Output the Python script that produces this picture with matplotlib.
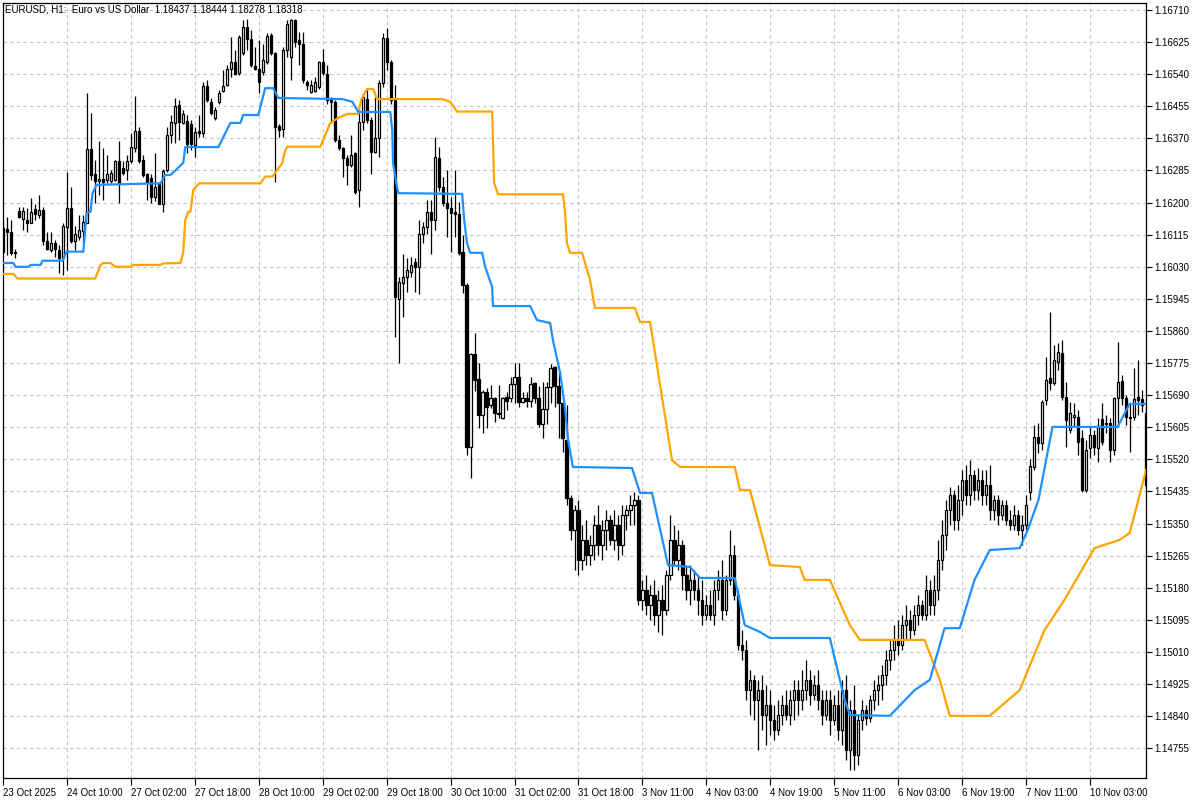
import matplotlib
matplotlib.use("Agg")
import matplotlib.pyplot as plt
import numpy as np

# EURUSD H1 candles, one entry per bar (prices)
opens = [1.16132, 1.16129, 1.16121, 1.16069, 1.16178, 1.16156, 1.16154, 1.16147, 1.16182, 1.16168,
         1.16181, 1.16099, 1.16075, 1.16092, 1.16075, 1.16053, 1.16135, 1.16186, 1.16098, 1.16110,
         1.16126, 1.16147, 1.16341, 1.16275, 1.16256, 1.16262, 1.16260, 1.16257, 1.16260, 1.16310,
         1.16291, 1.16285, 1.16309, 1.16344, 1.16390, 1.16313, 1.16275, 1.16265, 1.16215, 1.16250,
         1.16197, 1.16285, 1.16379, 1.16411, 1.16458, 1.16411, 1.16416, 1.16408, 1.16352, 1.16389,
         1.16383, 1.16508, 1.16467, 1.16423, 1.16467, 1.16496, 1.16511, 1.16555, 1.16573, 1.16542,
         1.16595, 1.16665, 1.16634, 1.16563, 1.16555, 1.16546, 1.16573, 1.16643, 1.16595, 1.16402,
         1.16396, 1.16604, 1.16586, 1.16683, 1.16630, 1.16621, 1.16520, 1.16493, 1.16496, 1.16505,
         1.16573, 1.16540, 1.16471, 1.16467, 1.16367, 1.16344, 1.16317, 1.16299, 1.16330, 1.16233,
         1.16414, 1.16473, 1.16418, 1.16335, 1.16370, 1.16516, 1.16635, 1.16573, 1.16471, 1.15946,
         1.15988, 1.16004, 1.16017, 1.16043, 1.16030, 1.16118, 1.16136, 1.16176, 1.16154, 1.16317,
         1.16242, 1.16198, 1.16185, 1.16176, 1.16170, 1.16068, 1.15982, 1.15554, 1.15798, 1.15732,
         1.15638, 1.15698, 1.15664, 1.15682, 1.15639, 1.15629, 1.15685, 1.15682, 1.15719, 1.15737,
         1.15673, 1.15683, 1.15675, 1.15721, 1.15682, 1.15615, 1.15653, 1.15711, 1.15764, 1.15713,
         1.15669, 1.15571, 1.15418, 1.15333, 1.15386, 1.15254, 1.15307, 1.15267, 1.15293, 1.15346,
         1.15293, 1.15333, 1.15360, 1.15307, 1.15346, 1.15293, 1.15373, 1.15386, 1.15399, 1.15413,
         1.15148, 1.15174, 1.15134, 1.15161, 1.15108, 1.15148, 1.15121, 1.15214, 1.15307, 1.15254,
         1.15293, 1.15214, 1.15174, 1.15201, 1.15174, 1.15148, 1.15108, 1.15134, 1.15108, 1.15174,
         1.15201, 1.15121, 1.15201, 1.15267, 1.15161, 1.15029, 1.15015, 1.14909, 1.14936, 1.14883,
         1.14909, 1.14843, 1.14870, 1.14830, 1.14803, 1.14843, 1.14870, 1.14843, 1.14883, 1.14909,
         1.14883, 1.14909, 1.14936, 1.14896, 1.14923, 1.14883, 1.14843, 1.14883, 1.14830, 1.14870,
         1.14803, 1.14909, 1.14750, 1.14856, 1.14737, 1.14830, 1.14856, 1.14835, 1.14883, 1.14909,
         1.14923, 1.14949, 1.14989, 1.15015, 1.15042, 1.15029, 1.15082, 1.15095, 1.15068, 1.15108,
         1.15134, 1.15108, 1.15174, 1.15134, 1.15174, 1.15254, 1.15320, 1.15386, 1.15426, 1.15360,
         1.15413, 1.15465, 1.15426, 1.15479, 1.15439, 1.15465, 1.15426, 1.15452, 1.15386, 1.15413,
         1.15373, 1.15399, 1.15360, 1.15346, 1.15373, 1.15333, 1.15346, 1.15434, 1.15500, 1.15580,
         1.15563, 1.15677, 1.15736, 1.15722, 1.15778, 1.15802, 1.15685, 1.15598, 1.15632, 1.15632,
         1.15577, 1.15439, 1.15550, 1.15585, 1.15550, 1.15627, 1.15616, 1.15616, 1.15545, 1.15683,
         1.15728, 1.15683, 1.15632, 1.15632, 1.15685, 1.15680, 1.15643]
highs = [1.16145, 1.16163, 1.16154, 1.16076, 1.16189, 1.16189, 1.16185, 1.16212, 1.16197, 1.16220,
         1.16189, 1.16123, 1.16121, 1.16101, 1.16088, 1.16145, 1.16282, 1.16242, 1.16137, 1.16167,
         1.16167, 1.16490, 1.16437, 1.16313, 1.16362, 1.16344, 1.16326, 1.16287, 1.16313, 1.16362,
         1.16309, 1.16326, 1.16384, 1.16481, 1.16401, 1.16326, 1.16278, 1.16275, 1.16330, 1.16255,
         1.16290, 1.16400, 1.16431, 1.16476, 1.16471, 1.16445, 1.16431, 1.16418, 1.16400, 1.16431,
         1.16520, 1.16524, 1.16476, 1.16453, 1.16498, 1.16551, 1.16564, 1.16639, 1.16604, 1.16643,
         1.16683, 1.16685, 1.16657, 1.16612, 1.16630, 1.16621, 1.16648, 1.16648, 1.16599, 1.16409,
         1.16612, 1.16683, 1.16687, 1.16687, 1.16652, 1.16652, 1.16524, 1.16524, 1.16533, 1.16576,
         1.16608, 1.16564, 1.16480, 1.16471, 1.16379, 1.16348, 1.16326, 1.16379, 1.16335, 1.16436,
         1.16489, 1.16498, 1.16427, 1.16480, 1.16524, 1.16648, 1.16661, 1.16577, 1.16511, 1.16004,
         1.16065, 1.16052, 1.16057, 1.16052, 1.16154, 1.16149, 1.16207, 1.16207, 1.16374, 1.16348,
         1.16268, 1.16286, 1.16215, 1.16286, 1.16202, 1.16114, 1.15986, 1.15801, 1.15854, 1.15774,
         1.15704, 1.15708, 1.15717, 1.15686, 1.15717, 1.15686, 1.15699, 1.15737, 1.15776, 1.15776,
         1.15699, 1.15699, 1.15737, 1.15726, 1.15713, 1.15726, 1.15726, 1.15773, 1.15767, 1.15748,
         1.15673, 1.15664, 1.15426, 1.15399, 1.15413, 1.15346, 1.15360, 1.15320, 1.15373, 1.15399,
         1.15360, 1.15386, 1.15373, 1.15386, 1.15373, 1.15399, 1.15399, 1.15426, 1.15434, 1.15426,
         1.15201, 1.15214, 1.15187, 1.15201, 1.15174, 1.15187, 1.15227, 1.15373, 1.15346, 1.15333,
         1.15307, 1.15240, 1.15240, 1.15227, 1.15214, 1.15201, 1.15161, 1.15174, 1.15201, 1.15227,
         1.15254, 1.15214, 1.15333, 1.15293, 1.15174, 1.15068, 1.15042, 1.14962, 1.14949, 1.14936,
         1.14949, 1.14923, 1.14909, 1.14870, 1.14883, 1.14896, 1.14909, 1.14909, 1.14936, 1.14936,
         1.14962, 1.14989, 1.14962, 1.14949, 1.14962, 1.14909, 1.14909, 1.14909, 1.14896, 1.14909,
         1.14936, 1.14949, 1.14883, 1.14923, 1.14843, 1.14883, 1.14870, 1.14896, 1.14936, 1.14949,
         1.14976, 1.15015, 1.15042, 1.15082, 1.15095, 1.15108, 1.15134, 1.15121, 1.15134, 1.15161,
         1.15148, 1.15214, 1.15201, 1.15214, 1.15307, 1.15360, 1.15413, 1.15447, 1.15439, 1.15452,
         1.15492, 1.15505, 1.15518, 1.15492, 1.15497, 1.15492, 1.15492, 1.15505, 1.15426, 1.15426,
         1.15413, 1.15413, 1.15386, 1.15399, 1.15386, 1.15373, 1.15426, 1.15521, 1.15611, 1.15616,
         1.15677, 1.15791, 1.15910, 1.15823, 1.15828, 1.15836, 1.15725, 1.15672, 1.15669, 1.15651,
         1.15598, 1.15571, 1.15606, 1.15598, 1.15630, 1.15669, 1.15638, 1.15630, 1.15685, 1.15831,
         1.15744, 1.15691, 1.15669, 1.15762, 1.15783, 1.15704, 1.15677]
lows = [1.16066, 1.16061, 1.16061, 1.16053, 1.16159, 1.16128, 1.16123, 1.16145, 1.16154, 1.16159,
        1.16088, 1.16075, 1.16070, 1.16057, 1.16013, 1.16009, 1.16022, 1.16092, 1.16075, 1.16101,
        1.16092, 1.16145, 1.16260, 1.16198, 1.16220, 1.16207, 1.16251, 1.16251, 1.16256, 1.16198,
        1.16273, 1.16260, 1.16304, 1.16335, 1.16304, 1.16269, 1.16207, 1.16200, 1.16205, 1.16196,
        1.16175, 1.16280, 1.16357, 1.16357, 1.16365, 1.16409, 1.16330, 1.16339, 1.16321, 1.16374,
        1.16374, 1.16467, 1.16431, 1.16418, 1.16462, 1.16493, 1.16508, 1.16533, 1.16537, 1.16537,
        1.16590, 1.16604, 1.16559, 1.16551, 1.16489, 1.16537, 1.16568, 1.16590, 1.16255, 1.16374,
        1.16374, 1.16586, 1.16524, 1.16612, 1.16564, 1.16516, 1.16498, 1.16489, 1.16493, 1.16502,
        1.16537, 1.16462, 1.16410, 1.16361, 1.16339, 1.16268, 1.16246, 1.16295, 1.16224, 1.16189,
        1.16392, 1.16410, 1.16277, 1.16330, 1.16321, 1.16507, 1.16551, 1.16462, 1.15845, 1.15774,
        1.15898, 1.15964, 1.16004, 1.15964, 1.15959, 1.16092, 1.16118, 1.16065, 1.16127, 1.16230,
        1.16190, 1.16110, 1.16070, 1.16110, 1.16061, 1.15960, 1.15532, 1.15470, 1.15700, 1.15602,
        1.15589, 1.15602, 1.15655, 1.15620, 1.15629, 1.15626, 1.15651, 1.15673, 1.15668, 1.15660,
        1.15668, 1.15660, 1.15660, 1.15668, 1.15607, 1.15576, 1.15615, 1.15668, 1.15660, 1.15576,
        1.15540, 1.15399, 1.15307, 1.15227, 1.15214, 1.15227, 1.15240, 1.15240, 1.15254, 1.15267,
        1.15254, 1.15280, 1.15293, 1.15280, 1.15254, 1.15267, 1.15333, 1.15346, 1.15346, 1.15134,
        1.15121, 1.15108, 1.15095, 1.15082, 1.15063, 1.15055, 1.15108, 1.15201, 1.15240, 1.15227,
        1.15174, 1.15148, 1.15134, 1.15148, 1.15108, 1.15082, 1.15095, 1.15095, 1.15082, 1.15148,
        1.15095, 1.15108, 1.15187, 1.15148, 1.15015, 1.14989, 1.14883, 1.14843, 1.14830, 1.14750,
        1.14803, 1.14764, 1.14790, 1.14777, 1.14790, 1.14817, 1.14830, 1.14817, 1.14830, 1.14843,
        1.14856, 1.14883, 1.14870, 1.14883, 1.14856, 1.14817, 1.14830, 1.14790, 1.14817, 1.14777,
        1.14764, 1.14724, 1.14698, 1.14698, 1.14711, 1.14803, 1.14817, 1.14825, 1.14856, 1.14870,
        1.14883, 1.14923, 1.14962, 1.14989, 1.15002, 1.15015, 1.15042, 1.15042, 1.15055, 1.15082,
        1.15095, 1.15095, 1.15108, 1.15108, 1.15148, 1.15227, 1.15280, 1.15346, 1.15333, 1.15333,
        1.15373, 1.15399, 1.15399, 1.15413, 1.15413, 1.15399, 1.15399, 1.15360, 1.15360, 1.15346,
        1.15360, 1.15346, 1.15333, 1.15333, 1.15320, 1.15293, 1.15333, 1.15413, 1.15492, 1.15537,
        1.15545, 1.15664, 1.15704, 1.15717, 1.15757, 1.15677, 1.15553, 1.15590, 1.15606, 1.15532,
        1.15434, 1.15434, 1.15524, 1.15532, 1.15513, 1.15558, 1.15590, 1.15513, 1.15532, 1.15606,
        1.15664, 1.15611, 1.15540, 1.15624, 1.15638, 1.15646, 1.15444]
closes = [1.16070, 1.16121, 1.16066, 1.16066, 1.16161, 1.16178, 1.16147, 1.16174, 1.16169, 1.16181,
          1.16099, 1.16077, 1.16094, 1.16076, 1.16053, 1.16139, 1.16185, 1.16099, 1.16117, 1.16128,
          1.16148, 1.16341, 1.16273, 1.16258, 1.16262, 1.16254, 1.16276, 1.16278, 1.16311, 1.16253,
          1.16278, 1.16310, 1.16347, 1.16390, 1.16309, 1.16273, 1.16251, 1.16215, 1.16240, 1.16197,
          1.16284, 1.16379, 1.16414, 1.16455, 1.16414, 1.16434, 1.16355, 1.16356, 1.16387, 1.16383,
          1.16508, 1.16471, 1.16436, 1.16446, 1.16489, 1.16508, 1.16555, 1.16573, 1.16540, 1.16639,
          1.16665, 1.16634, 1.16564, 1.16555, 1.16520, 1.16577, 1.16641, 1.16595, 1.16401, 1.16393,
          1.16604, 1.16674, 1.16683, 1.16626, 1.16621, 1.16524, 1.16511, 1.16511, 1.16520, 1.16573,
          1.16542, 1.16471, 1.16467, 1.16366, 1.16344, 1.16317, 1.16299, 1.16326, 1.16229, 1.16414,
          1.16480, 1.16418, 1.16335, 1.16370, 1.16516, 1.16635, 1.16573, 1.16471, 1.15951, 1.15990,
          1.16004, 1.16021, 1.16034, 1.16030, 1.16118, 1.16136, 1.16176, 1.16154, 1.16321, 1.16242,
          1.16198, 1.16185, 1.16173, 1.16170, 1.16067, 1.15982, 1.15554, 1.15798, 1.15730, 1.15638,
          1.15698, 1.15660, 1.15682, 1.15644, 1.15644, 1.15683, 1.15675, 1.15719, 1.15739, 1.15673,
          1.15683, 1.15675, 1.15719, 1.15682, 1.15615, 1.15653, 1.15711, 1.15763, 1.15713, 1.15669,
          1.15576, 1.15418, 1.15333, 1.15386, 1.15254, 1.15307, 1.15267, 1.15293, 1.15346, 1.15293,
          1.15333, 1.15360, 1.15307, 1.15346, 1.15293, 1.15373, 1.15386, 1.15399, 1.15413, 1.15148,
          1.15174, 1.15134, 1.15161, 1.15108, 1.15148, 1.15121, 1.15214, 1.15307, 1.15254, 1.15293,
          1.15214, 1.15174, 1.15201, 1.15174, 1.15148, 1.15108, 1.15134, 1.15108, 1.15174, 1.15201,
          1.15121, 1.15201, 1.15267, 1.15161, 1.15029, 1.15015, 1.14909, 1.14936, 1.14883, 1.14909,
          1.14843, 1.14870, 1.14830, 1.14803, 1.14843, 1.14870, 1.14843, 1.14883, 1.14909, 1.14883,
          1.14909, 1.14936, 1.14896, 1.14923, 1.14883, 1.14843, 1.14883, 1.14830, 1.14870, 1.14803,
          1.14909, 1.14750, 1.14856, 1.14737, 1.14830, 1.14856, 1.14835, 1.14883, 1.14909, 1.14923,
          1.14949, 1.14989, 1.15015, 1.15042, 1.15029, 1.15082, 1.15095, 1.15068, 1.15108, 1.15134,
          1.15108, 1.15174, 1.15134, 1.15174, 1.15254, 1.15320, 1.15386, 1.15426, 1.15360, 1.15413,
          1.15465, 1.15426, 1.15479, 1.15439, 1.15465, 1.15426, 1.15452, 1.15386, 1.15413, 1.15373,
          1.15399, 1.15360, 1.15346, 1.15373, 1.15333, 1.15346, 1.15399, 1.15502, 1.15580, 1.15563,
          1.15672, 1.15730, 1.15722, 1.15783, 1.15804, 1.15685, 1.15624, 1.15643, 1.15638, 1.15566,
          1.15439, 1.15545, 1.15585, 1.15553, 1.15606, 1.15566, 1.15614, 1.15545, 1.15683, 1.15725,
          1.15683, 1.15632, 1.15630, 1.15680, 1.15677, 1.15664, 1.15452]

# indicator lines: (bar index, price) vertices
blue_idx = [0, 2.6, 3.1, 6.4, 6.9, 9.4, 9.9, 14.9, 15.9, 20.1, 20.9, 21.9, 22.4, 23.4, 39.4, 40.6,
            41.9, 45.1, 45.6, 53.9, 56.9, 59.4, 60.1, 63.9, 65.6, 67.6, 68.9, 84.9, 87.4, 88.9, 96.9,
            97.4, 97.6, 98.4, 98.9, 114.9, 115.4, 116.1, 116.9, 119.9, 120.6, 122.4, 122.6, 131.9,
            133.6, 136.9, 137.6, 139.4, 140.6, 141.4, 142.6, 157.4, 159.4, 162.4, 166.4, 171.9, 174.4,
            183.1, 185.6, 189.4, 191.9, 206.9, 210.6, 211.9, 221.9, 228.1, 231.9, 235.6, 239.4, 243.1,
            246.9, 254.4, 256.4, 259.1, 262.6, 278.9, 281.9, 286]
blue_val = [1.16040, 1.16040, 1.16030, 1.16030, 1.16035, 1.16035, 1.16046, 1.16046, 1.16070, 1.16070,
            1.16172, 1.16176, 1.16225, 1.16247, 1.16251, 1.16273, 1.16273, 1.16305, 1.16347, 1.16347,
            1.16411, 1.16411, 1.16432, 1.16432, 1.16503, 1.16503, 1.16477, 1.16474, 1.16467, 1.16440,
            1.16440, 1.16392, 1.16305, 1.16252, 1.16225, 1.16223, 1.16154, 1.16093, 1.16067, 1.16067,
            1.16032, 1.15976, 1.15926, 1.15926, 1.15889, 1.15881, 1.15836, 1.15749, 1.15659, 1.15571,
            1.15500, 1.15497, 1.15431, 1.15431, 1.15240, 1.15235, 1.15206, 1.15206, 1.15081, 1.15063,
            1.15047, 1.15047, 1.14883, 1.14843, 1.14841, 1.14909, 1.14936, 1.15073, 1.15073, 1.15201,
            1.15280, 1.15285, 1.15333, 1.15413, 1.15606, 1.15606, 1.15667, 1.15667]
orange_idx = [0, 2.6, 3.6, 23.1, 24.4, 25.1, 26.9, 28.1, 31.9, 32.4, 39.4, 40.1, 44.4, 45.1, 45.6,
              46.4, 46.9, 47.6, 49.1, 64.4, 65.6, 67.4, 68.6, 69.9, 70.4, 71.1, 79.4, 81.9, 84.4, 86.4,
              88.9, 89.6, 91.1, 92.6, 93.6, 109.9, 111.9, 113.6, 122.4, 122.6, 122.9, 123.9, 140.1,
              140.6, 141.1, 141.9, 144.9, 146.9, 148.1, 158.1, 159.4, 161.9, 167.4, 169.4, 183.1, 184.4,
              186.9, 191.9, 199.4, 200.6, 206.9, 211.9, 214.4, 230.6, 234.4, 236.9, 246.9, 254.4, 260.6,
              265.6, 273.1, 279.4, 281.9, 284.1, 286]
orange_val = [1.16011, 1.16011, 1.15999, 1.15999, 1.16035, 1.16040, 1.16040, 1.16030, 1.16030, 1.16035,
              1.16035, 1.16039, 1.16040, 1.16069, 1.16154, 1.16176, 1.16176, 1.16233, 1.16251, 1.16251,
              1.16269, 1.16269, 1.16286, 1.16305, 1.16331, 1.16348, 1.16348, 1.16411, 1.16427, 1.16435,
              1.16435, 1.16472, 1.16501, 1.16501, 1.16474, 1.16474, 1.16467, 1.16441, 1.16441, 1.16366,
              1.16251, 1.16222, 1.16222, 1.16180, 1.16093, 1.16067, 1.16067, 1.15995, 1.15921, 1.15921,
              1.15884, 1.15884, 1.15518, 1.15500, 1.15500, 1.15439, 1.15439, 1.15240, 1.15235, 1.15201,
              1.15201, 1.15081, 1.15042, 1.15042, 1.14936, 1.14841, 1.14841, 1.14909, 1.15068, 1.15148,
              1.15285, 1.15307, 1.15325, 1.15413, 1.15492]

time_bars = [0, 16, 32, 48, 64, 80, 96, 112, 128, 144, 160, 176, 192, 208, 224, 240, 256, 272]
time_labels = ["23 Oct 2025", "24 Oct 10:00", "27 Oct 02:00", "27 Oct 18:00", "28 Oct 10:00",
               "29 Oct 02:00", "29 Oct 18:00", "30 Oct 10:00", "31 Oct 02:00", "31 Oct 18:00",
               "3 Nov 11:00", "4 Nov 03:00", "4 Nov 19:00", "5 Nov 11:00", "6 Nov 03:00",
               "6 Nov 19:00", "7 Nov 11:00", "10 Nov 03:00"]
price_ticks = [1.16710, 1.16625, 1.16540, 1.16455, 1.16370, 1.16285, 1.16200, 1.16115, 1.16030,
               1.15945, 1.15860, 1.15775, 1.15690, 1.15605, 1.15520, 1.15435, 1.15350, 1.15265,
               1.15180, 1.15095, 1.15010, 1.14925, 1.14840, 1.14755]

header = "EURUSD, H1:  Euro vs US Dollar  1.18437 1.18444 1.18278 1.18318"

plt.rcParams['font.family'] = ['Liberation Sans', 'DejaVu Sans']

fig = plt.figure(figsize=(12, 8), dpi=100)
ax = fig.add_axes([3 / 1200, 22 / 800, 1143 / 1200, 775 / 800])

o = np.array(opens)
h = np.array(highs)
l = np.array(lows)
c = np.array(closes)
x = np.arange(len(o))
up = c >= o

ax.vlines(x, l, h, color="black", lw=0.9, zorder=3)
bottom = np.minimum(o, c)
height = np.maximum(np.abs(c - o), 0.000012)
ax.bar(x[up], height[up], bottom=bottom[up], width=0.55, facecolor="white",
       edgecolor="black", lw=0.9, zorder=4)
ax.bar(x[~up], height[~up], bottom=bottom[~up], width=0.55, facecolor="black",
       edgecolor="black", lw=0.9, zorder=4)

ax.plot(orange_idx, orange_val, color="#ffa500", lw=1.6, zorder=5)
ax.plot(blue_idx, blue_val, color="#1e90ff", lw=1.6, zorder=6)

ax.set_xlim(0, 286)
ax.set_ylim(1.146763, 1.167285)

ax.yaxis.tick_right()
ax.set_yticks(price_ticks)
ax.set_yticklabels([f"{p:.5f}" for p in price_ticks])
ax.set_xticks(time_bars)
ax.set_xticklabels(time_labels, ha="left")
ax.tick_params(axis="y", direction="out", length=4, width=0.8, labelsize=7, pad=2)
ax.tick_params(axis="x", direction="out", length=5, width=0.8, labelsize=7, pad=2)

ax.grid(True, color="#c4c4c4", linestyle=(0, (3, 3)), lw=0.8, zorder=0)
for s in ax.spines.values():
    s.set_linewidth(0.9)

fig.text(5 / 1200, 1 - 9 / 800, header, fontsize=7, va="center", ha="left")

plt.savefig("out.png", dpi=100)
